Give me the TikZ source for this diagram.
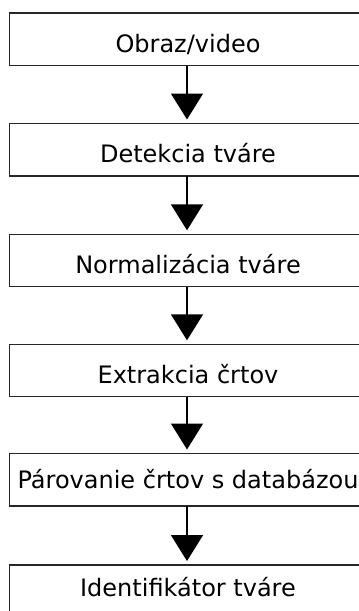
\documentclass[tikz,border=0pt]{standalone}
\usepackage{fontspec}
\setmainfont{DejaVu Sans}
\usetikzlibrary{arrows.meta}
\begin{document}
\begin{tikzpicture}[x=1pt,y=-1pt,
  stagebox/.style={draw=black!85, line width=1.3pt, fill=white, rectangle, anchor=north west,
    minimum width=357pt, minimum height=52.5pt, inner sep=0pt, outer sep=0pt,
    font=\fontsize{24}{28}\selectfont, text height=39pt, text depth=13.5pt},
  flow/.style={line width=1.6pt, -{Triangle[width=32pt,length=26pt]}}]
\useasboundingbox (0,0) rectangle (359,611);
\clip (0,0) rectangle (359,611);
\node[stagebox] (b1) at (9.5,13) {Obraz/video};
\node[stagebox] (b2) at (9.5,123.5) {Detekcia tváre};
\node[stagebox] (b3) at (9.5,234.3) {Normalizácia tváre};
\node[stagebox] (b4) at (9.5,344.3) {Extrakcia črtov};
\node[stagebox, text height=35pt, text depth=17.5pt] (b5) at (9.5,453.5) {Párovanie črtov s databázou};
\node[stagebox, text height=31pt, text depth=21.5pt] (b6) at (9.5,565) {Identifikátor tváre};
\coordinate (t2) at (187,119.5);
\coordinate (t3) at (187,230.3);
\coordinate (t4) at (187,340.3);
\coordinate (t5) at (187,449.5);
\coordinate (t6) at (187,561);
\draw[flow] (b1.south -| t2) -- (t2);
\draw[flow] (b2.south -| t3) -- (t3);
\draw[flow] (b3.south -| t4) -- (t4);
\draw[flow] (b4.south -| t5) -- (t5);
\draw[flow] (b5.south -| t6) -- (t6);
\end{tikzpicture}
\end{document}
